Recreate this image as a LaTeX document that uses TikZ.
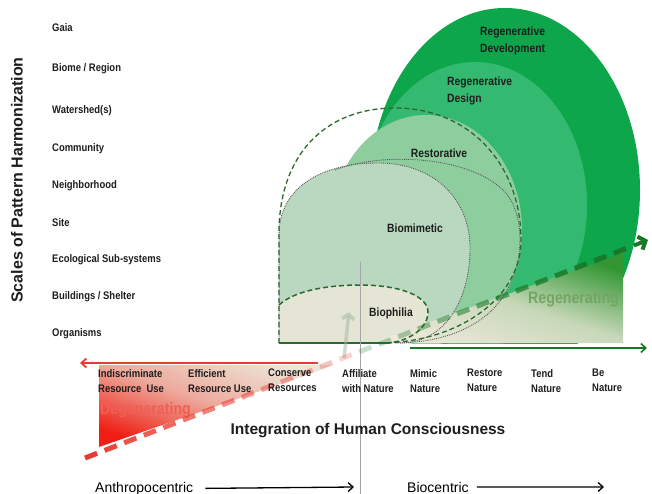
\documentclass[tikz,border=0pt]{standalone}
\usepackage{fontspec}
\setmainfont{Liberation Sans}
\newfontfamily\condfont[FakeStretch=0.86]{Liberation Sans}
\usetikzlibrary{arrows.meta,calc}
\definecolor{regdev}{RGB}{14,166,74}
\definecolor{regdes}{RGB}{52,186,112}
\definecolor{restor}{RGB}{142,206,158}
\definecolor{biomim}{RGB}{186,216,192}
\definecolor{biophil}{RGB}{228,229,212}
\definecolor{darkline}{RGB}{40,105,50}
\definecolor{redline}{RGB}{232,60,50}
\definecolor{regline}{RGB}{25,120,40}
\definecolor{degred}{RGB}{240,30,20}
\definecolor{degbeige}{RGB}{236,230,216}
\definecolor{degtext}{RGB}{240,95,85}
\definecolor{regbase}{RGB}{236,232,218}
\definecolor{reggreen}{RGB}{50,150,50}
\definecolor{regtext}{RGB}{115,165,100}
\definecolor{textgray}{RGB}{30,30,30}
\tikzset{
  scalelabel/.style={anchor=base west, inner sep=0pt, text=textgray, font=\condfont\bfseries\fontsize{11}{13}\selectfont},
  actlabel/.style={anchor=north west, align=left, inner sep=0pt, text=textgray, font=\condfont\bfseries\fontsize{11}{15}\selectfont},
  zonelabel/.style={inner sep=0pt, align=left, text=textgray, font=\condfont\bfseries\fontsize{12}{16.5}\selectfont},
  flowlabel/.style={anchor=base west, inner sep=0pt, font=\fontsize{14}{16}\selectfont},
  tendlabel/.style={anchor=base west, inner sep=0pt, font=\condfont\bfseries\fontsize{16.5}{18}\selectfont},
  barb/.style={-{Straight Barb[length=5pt,width=9pt]}},
  outline/.style={darkline, line width=1.3pt, dash pattern=on 5pt off 3pt},
  dotline/.style={gray!70!black, line width=0.9pt, densely dotted},
}
\begin{document}
\begin{tikzpicture}[x=1pt,y=-1pt]
  \useasboundingbox (0,0) rectangle (652,494);
  \node[rotate=90, text=textgray, font=\bfseries\fontsize{16}{18}\selectfont] (scaleaxis) at (17,180) {Scales of Pattern Harmonization};
  \foreach \yy/\lbl [count=\i] in {32/Gaia, 72/{Biome / Region}, 114/Watershed(s), 152/Community, 189/Neighborhood, 226/Site, 262/Ecological Sub-systems, 299/{Buildings / Shelter}, 336/Organisms}
    \node[scalelabel] (scale\i) at (52,\yy) {\lbl};
  \begin{scope}
    \clip (270,0) rectangle (652,343);
    \fill[regdev] (505,190) ellipse [x radius=135, y radius=182];
    \fill[regdes] (475,205) ellipse [x radius=112, y radius=143];
    \fill[restor] (426,230) ellipse [x radius=96, y radius=115];
  \end{scope}
  \fill[biomim] (279,343) -- (279,235) .. controls (279,185) and (325,163) .. (378,163) .. controls (435,163) and (470,200) .. (470,248) .. controls (470,300) and (445,343) .. (400,343) -- cycle;
  \fill[biophil] (279,343) -- (279,305) .. controls (295,290) and (330,285) .. (360,285) .. controls (400,285) and (428,296) .. (428,312) .. controls (428,330) and (405,343) .. (385,343) -- cycle;
  \shade[bottom color=regbase, top color=reggreen, middle color=regbase!80!reggreen, shading angle=-18] (371,343) -- (623,253) -- (623,343) -- cycle;
  \shade[bottom color=degred, top color=degbeige, middle color=degbeige!70!degred, shading angle=-20] (99,365) -- (335,365) -- (99,447) -- cycle;
  \draw[outline] (279,343) -- (279,233) .. controls (279,155) and (325,108) .. (395,108) .. controls (470,108) and (521,165) .. (521,240) .. controls (521,300) and (455,343) .. (380,343);
  \draw[dotline] (279,343) -- (279,235) .. controls (279,185) and (325,163) .. (378,163) .. controls (435,163) and (470,200) .. (470,248) .. controls (470,300) and (445,343) .. (400,343);
  \draw[dotline] (335,170) .. controls (380,152) and (470,155) .. (505,192) .. controls (530,220) and (525,290) .. (480,320) .. controls (455,337) and (425,343) .. (395,343);
  \draw[outline, line width=1.5pt] (279,305) .. controls (295,290) and (330,285) .. (360,285) .. controls (400,285) and (428,296) .. (428,312) .. controls (428,330) and (405,343) .. (385,343);
  \draw[darkline, line width=1.2pt] (279,343) -- (390,343);
  \node[zonelabel, anchor=north west] (regdevlabel) at (480,27) {Regenerative\\Development};
  \node[zonelabel, anchor=north west] (regdeslabel) at (447,77) {Regenerative\\Design};
  \node[zonelabel] (restorlabel) at (439,153) {Restorative};
  \node[zonelabel] (biomimlabel) at (415,228) {Biomimetic};
  \node[zonelabel] (biophillabel) at (391,313) {Biophilia};
  \node[tendlabel, text=regtext] (regenerating) at (528,303) {Regenerating};
  \node[tendlabel, text=degtext] (degenerating) at (100,414) {Degenerating};
  \draw[gray!70, line width=0.7pt] (360,262) -- (360,494);
  \coordinate (upfrom) at (344,358);
  \coordinate (upto) at (349,312);
  \draw[line width=3.5pt, reggreen!40!gray!60, opacity=.5, -{Straight Barb[length=5pt,width=12pt]}] (upfrom) -- (upto);
  \coordinate (degstart) at (85,458);
  \coordinate (regend) at (648,240);
  \foreach \i in {0,...,27} {
    \pgfmathsetmacro\sa{21*\i/603.7}
    \pgfmathsetmacro\sb{(21*\i+13)/603.7}
    \pgfmathsetmacro\op{abs(\i-13.5)/13.5*0.8+0.2}
    \pgfmathtruncatemacro\mix{\i<13.5 ? 100 : 0}
    \draw[line width=5pt, draw=redline!\mix!regline, opacity=\op] ($(degstart)!\sa!(regend)$) -- ($(degstart)!\sb!(regend)$);
  }
  \draw[line width=4pt, regline, -{Straight Barb[length=6pt,width=14pt]}] ($(degstart)!0.975!(regend)$) -- (regend);
  \coordinate (degfrom) at (318,363);
  \coordinate (degto) at (80,363);
  \coordinate (regfrom) at (410,348);
  \coordinate (regto) at (647,348);
  \draw[redline, line width=1.8pt, barb] (degfrom) -- (degto);
  \draw[regline, line width=1.6pt, barb] (regfrom) -- (regto);
  \foreach \xx/\lbl [count=\i] in {98/{Indiscriminate\\Resource~ Use}, 188/{Efficient\\Resource Use}, 268/{Conserve\\Resources}, 342/{Affiliate\\with Nature}, 410/{Mimic\\Nature}, 467/{Restore\\Nature}, 531/{Tend\\Nature}, 592/{Be\\Nature}}
    \node[actlabel] (act\i) at (\xx,369) {\lbl};
  \node[text=textgray, font=\bfseries\fontsize{15.5}{18}\selectfont] (integration) at (368,431) {Integration of Human Consciousness};
  \node[flowlabel] (anthro) at (95,492) {Anthropocentric};
  \node[flowlabel] (bio) at (407,492) {Biocentric};
  \coordinate (anthroend) at (354,487);
  \coordinate (bioend) at (604,487);
  \draw[line width=1.3pt, barb] ($(anthro.east)+(12,0)$) -- (anthroend);
  \draw[line width=1.3pt, barb] ($(bio.east)+(8,0)$) -- (bioend);
\end{tikzpicture}
\end{document}
